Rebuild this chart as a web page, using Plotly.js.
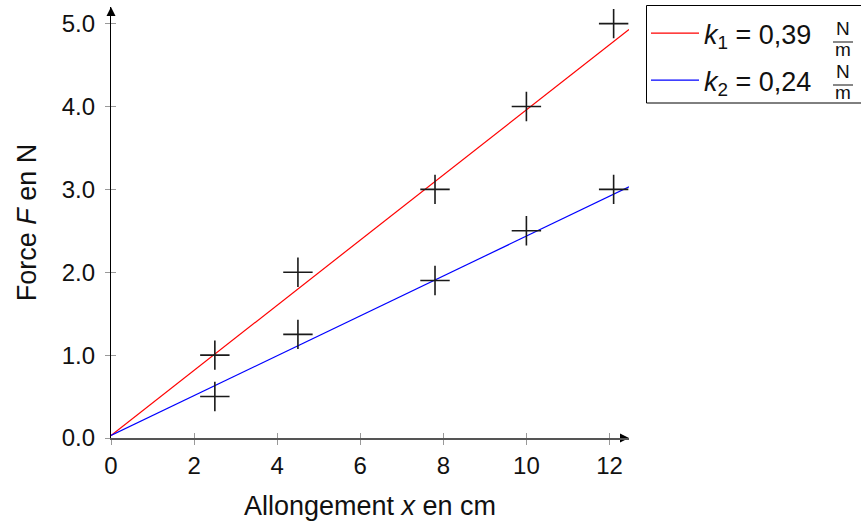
<!DOCTYPE html>
<html>
<head>
<meta charset="utf-8">
<script src="https://cdn.plot.ly/plotly-3.0.1.min.js"></script>
<style>html,body{margin:0;padding:0;background:#fff;}#chart{width:861px;height:523px;}</style>
</head>
<body>
<div id="chart"></div>
<script>
// Data
const elongation = [2.5, 4.5, 7.8, 10, 12.1];          // x in cm
const force1 = [1.0, 2.0, 3.0, 4.0, 5.0];             // spring 1, N
const force2 = [0.5, 1.25, 1.9, 2.5, 3.0];            // spring 2, N
const fitX = [0, 12.47];
const fit1 = [0.03, 4.93];
const fit2 = [0.03, 3.03];
const xTicks = [0, 2, 4, 6, 8, 10, 12];
const yTicks = [0, 1, 2, 3, 4, 5];
const legend1 = "<i>k</i><sub>1</sub> = 0,39";
const legend2 = "<i>k</i><sub>2</sub> = 0,24";

const FONT = "Liberation Sans, Arial, sans-serif";
const xRange = [0, 12.47], yRange = [0, 5.2];

const traces = [
  {x: fitX, y: fit1, mode: 'lines', line: {color: '#ff0000', width: 1.2},
   name: legend1, legendgroup: 'a'},
  {x: fitX, y: fit2, mode: 'lines', line: {color: '#0000ff', width: 1.2},
   name: legend2, legendgroup: 'b'},
  {x: elongation, y: force1, mode: 'markers', showlegend: false, cliponaxis: false,
   marker: {symbol: 'cross-thin', size: 21, line: {width: 1.6, color: '#1a1a1a'}}},
  {x: elongation, y: force2, mode: 'markers', showlegend: false, cliponaxis: false,
   marker: {symbol: 'cross-thin', size: 21, line: {width: 1.6, color: '#1a1a1a'}}},
  // axis arrowheads at the axis ends
  {x: [xRange[1], xRange[0]], y: [yRange[0], yRange[1]], mode: 'markers', showlegend: false, cliponaxis: false,
   hoverinfo: 'skip',
   marker: {symbol: ['arrow-right', 'arrow-up'], size: 9, color: '#000', line: {width: 0}}},
  {x: [null], y: [null], xaxis: 'x2', yaxis: 'y2', showlegend: false, hoverinfo: 'skip'}
];

function px2paperX(px){ return (px - 111) / 518; }
function px2paperY(py){ return (438 - py) / 431; }

const fracAnn = [];
const fracShapes = [];
[[28, 42, 50], [71, 85, 93]].forEach(function(r){
  fracAnn.push({xref: 'paper', yref: 'paper', x: px2paperX(843), y: px2paperY(r[0]), text: 'N',
    showarrow: false, font: {family: FONT, size: 19, color: '#111'}, xanchor: 'center', yanchor: 'middle'});
  fracAnn.push({xref: 'paper', yref: 'paper', x: px2paperX(843), y: px2paperY(r[2]), text: 'm',
    showarrow: false, font: {family: FONT, size: 19, color: '#111'}, xanchor: 'center', yanchor: 'middle'});
  fracShapes.push({type: 'line', xref: 'paper', yref: 'paper', x0: px2paperX(833), x1: px2paperX(853),
    y0: px2paperY(r[1]), y1: px2paperY(r[1]), line: {color: '#111', width: 1}});
});
// legend frame
fracShapes.push({type: 'rect', xref: 'paper', yref: 'paper', x0: px2paperX(646.5), x1: px2paperX(866),
  y0: px2paperY(5.5), y1: px2paperY(103), line: {color: '#000', width: 1}, fillcolor: 'rgba(0,0,0,0)'});

const layout = {
  width: 861, height: 523,
  margin: {l: 111, r: 232, t: 7, b: 85, autoexpand: false},
  paper_bgcolor: '#fff', plot_bgcolor: '#fff',
  font: {family: FONT, size: 24, color: '#111'},
  xaxis: {range: xRange, tickvals: xTicks, ticktext: xTicks.map(String),
    showgrid: false, zeroline: false, showline: true, linecolor: '#555', linewidth: 2,
    ticks: 'outside', ticklen: 5, tickwidth: 1, tickcolor: '#999',
    tickfont: {family: FONT, size: 24, color: '#111'},
    title: {text: 'Allongement <i>x</i> en cm', font: {family: FONT, size: 27, color: '#111'}, standoff: 18},
    automargin: false, fixedrange: true},
  yaxis: {range: yRange, tickvals: yTicks, ticktext: yTicks.map(v => v.toFixed(1)),
    showgrid: false, zeroline: false, showline: true, linecolor: '#000', linewidth: 1.2,
    ticks: 'outside', ticklen: 5, tickwidth: 1, tickcolor: '#999', ticklabelstandoff: 5,
    tickfont: {family: FONT, size: 24, color: '#111'},
    title: {text: 'Force <i>F</i> en N', font: {family: FONT, size: 27, color: '#111'}, standoff: 17},
    automargin: false, fixedrange: true},
  xaxis2: {overlaying: 'x', matches: 'x', range: xRange, tickvals: xTicks, showticklabels: false,
    showgrid: false, zeroline: false, showline: false, ticks: 'inside', ticklen: 5, tickwidth: 1, tickcolor: '#999'},
  yaxis2: {overlaying: 'y', matches: 'y', range: yRange, tickvals: yTicks, showticklabels: false,
    showgrid: false, zeroline: false, showline: false, ticks: 'inside', ticklen: 5, tickwidth: 1, tickcolor: '#999'},
  showlegend: true,
  legend: {x: px2paperX(646), y: px2paperY(9), xanchor: 'left', yanchor: 'top',
    borderwidth: 0, bgcolor: 'rgba(0,0,0,0)', tracegroupgap: 9,
    font: {family: FONT, size: 27, color: '#111'}, itemwidth: 48},
  annotations: fracAnn,
  shapes: fracShapes
};

Plotly.newPlot('chart', traces, layout, {displayModeBar: false, staticPlot: true});
</script>
</body>
</html>
